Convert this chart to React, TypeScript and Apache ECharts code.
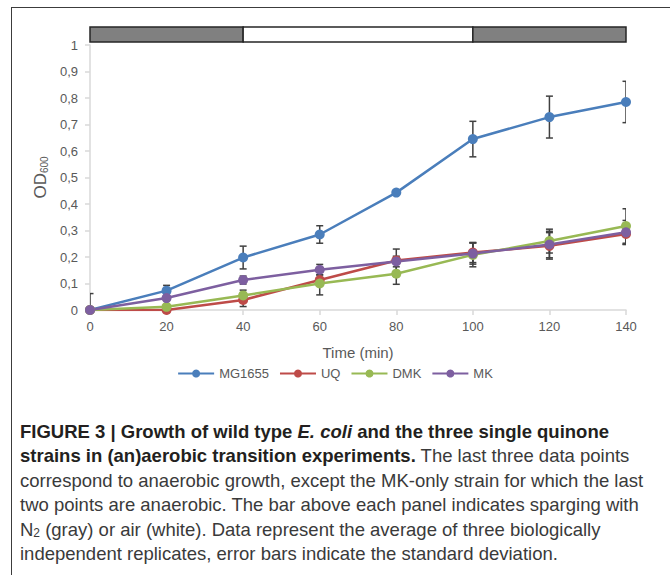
import React, { useEffect, useRef } from "react";
import * as echarts from "echarts";

const timePoints = [0, 20, 40, 60, 80, 100, 120, 140];
const seriesNames = ["MG1655", "UQ", "DMK", "MK"];
const mg1655 = [0, 0.073, 0.198, 0.285, 0.443, 0.645, 0.728, 0.785];
const mg1655Sd = [0, 0.02, 0.043, 0.033, 0.005, 0.067, 0.079, 0.078];
const uq = [0, 0, 0.038, 0.113, 0.187, 0.217, 0.242, 0.287];
const uqSd = [0, 0.004, 0.025, 0.02, 0.043, 0.038, 0.05, 0.04];
const dmk = [0, 0.012, 0.055, 0.1, 0.137, 0.208, 0.26, 0.317];
const dmkSd = [0, 0.004, 0.02, 0.043, 0.04, 0.045, 0.045, 0.065];
const mk = [0, 0.045, 0.113, 0.152, 0.183, 0.213, 0.247, 0.293];
const mkSd = [0.062, 0.01, 0.015, 0.02, 0.02, 0.04, 0.05, 0.045];
const yTicks = [0, 0.1, 0.2, 0.3, 0.4, 0.5, 0.6, 0.7, 0.8, 0.9, 1];
const xTicks = [0, 20, 40, 60, 80, 100, 120, 140];
// sparging phases: gas "N2" gray, "air" white
const phaseStart = [0, 40, 100];
const phaseEnd = [40, 100, 140];
const phaseGas = ["N2", "air", "N2"];

const colors = ["#4a7ebb", "#be4b48", "#98b954", "#7d5fa0"];

const captionLines: string[] = [
  "{b|FIGURE 3 | Growth of wild type }{bi|E. coli}{b| and the three single quinone}",
  "{b|strains in (an)aerobic transition experiments.}{n| The last three data points}",
  "{n|correspond to anaerobic growth, except the MK-only strain for which the last}",
  "{n|two points are anaerobic. The bar above each panel indicates sparging with}",
  "{n|N}{s|2}{n| (gray) or air (white). Data represent the average of three biologically}",
  "{n|independent replicates, error bars indicate the standard deviation.}",
];

export default function App() {
  const ref = useRef<HTMLDivElement>(null);
  useEffect(() => {
    if (!ref.current) return;
    const chart = echarts.init(ref.current, null, { renderer: "svg" });
    const means = [mg1655, uq, dmk, mk];
    const sds = [mg1655Sd, uqSd, dmkSd, mkSd];
    const font = "'Liberation Sans', Arial, sans-serif";
    const capFont = "'Liberation Sans', Arial, Helvetica, sans-serif";
    const capSize = 18.5;

    const lineSeries = seriesNames.map((name, k) => ({
      name,
      type: "line",
      data: timePoints.map((t, i) => [t, means[k][i]]),
      symbol: "circle",
      symbolSize: 10,
      z: 3,
      lineStyle: { color: colors[k], width: 2.5 },
      itemStyle: { color: colors[k] },
    }));

    const errSeries = seriesNames.map((name, k) => ({
      name: name + "-err",
      type: "custom",
      clip: true,
      z: 2,
      data: timePoints.map((t, i) => [t, means[k][i] - sds[k][i], means[k][i] + sds[k][i], sds[k][i]]),
      encode: { x: 0, y: [1, 2] },
      renderItem: (params: any, api: any) => {
        const sd = api.value(3);
        if (!sd || sd < 0.008) return null;
        const x = api.value(0);
        const lo = api.coord([x, api.value(1)]);
        const hi = api.coord([x, api.value(2)]);
        const w = 3.5;
        const st = { stroke: "#404040", lineWidth: 1.5 };
        return {
          type: "group",
          children: [
            { type: "line", shape: { x1: lo[0], y1: lo[1], x2: hi[0], y2: hi[1] }, style: st },
            { type: "line", shape: { x1: hi[0] - w, y1: hi[1], x2: hi[0] + w, y2: hi[1] }, style: st },
            { type: "line", shape: { x1: lo[0] - w, y1: lo[1], x2: lo[0] + w, y2: lo[1] }, style: st },
          ],
        };
      },
    }));

    const phaseSeries = {
      name: "sparging",
      type: "custom",
      clip: false,
      z: 5,
      data: phaseStart.map((s, i) => [s, phaseEnd[i], 1, phaseGas[i] === "N2" ? 1 : 0]),
      encode: { x: [0, 1], y: 2 },
      renderItem: (params: any, api: any) => {
        const p0 = api.coord([api.value(0), api.value(2)]);
        const p1 = api.coord([api.value(1), api.value(2)]);
        const gray = api.value(3) === 1;
        return {
          type: "rect",
          shape: { x: p0[0], y: p0[1] - 18, width: p1[0] - p0[0], height: 15 },
          style: { fill: gray ? "#808080" : "#ffffff", stroke: "#262626", lineWidth: 1.5 },
        };
      },
    };

    chart.setOption({
      animation: false,
      textStyle: { fontFamily: font },
      grid: { left: 90, right: 44, top: 45, bottom: 265, containLabel: false },
      legend: {
        data: seriesNames,
        top: 362,
        left: "center",
        itemWidth: 36,
        itemHeight: 10,
        itemGap: 10,
        textStyle: { color: "#595959", fontSize: 13, fontFamily: font },
      },
      xAxis: {
        type: "value",
        min: xTicks[0],
        max: xTicks[xTicks.length - 1],
        interval: 20,
        name: "Time (min)",
        nameLocation: "middle",
        nameGap: 35,
        nameTextStyle: { color: "#595959", fontSize: 15, fontFamily: font },
        axisLine: { show: true, lineStyle: { color: "#d9d9d9", width: 1.5 } },
        axisTick: { show: true, length: 5, lineStyle: { color: "#d9d9d9", width: 1.5 } },
        axisLabel: { color: "#595959", fontSize: 13, margin: 10 },
        splitLine: { show: false },
      },
      yAxis: {
        type: "value",
        min: yTicks[0],
        max: yTicks[yTicks.length - 1],
        interval: 0.1,
        name: "{a|OD}{s|600}",
        nameLocation: "middle",
        nameGap: 36,
        nameRotate: 90,
        nameTextStyle: {
          color: "#595959",
          rich: {
            a: { fontSize: 17, color: "#595959", fontFamily: font },
            s: { fontSize: 10, color: "#595959", fontFamily: font, padding: [8, 0, 0, 0] },
          },
        },
        axisLine: { show: true, lineStyle: { color: "#d9d9d9", width: 1.5 } },
        axisTick: { show: true, length: 5, lineStyle: { color: "#d9d9d9", width: 1.5 } },
        axisLabel: {
          color: "#595959",
          fontSize: 13,
          margin: 12,
          formatter: (v: number) => String(Math.round(v * 10) / 10).replace(".", ","),
        },
        splitLine: { show: false },
      },
      graphic: captionLines.map((txt, i) => ({
        type: "text",
        left: 20,
        top: 422 + i * 24.4,
        style: {
          text: txt,
          fill: "#231f20",
          rich: {
            b: { fontSize: capSize, fontWeight: "bold", fontFamily: capFont, fill: "#231f20" },
            bi: { fontSize: capSize, fontWeight: "bold", fontStyle: "italic", fontFamily: capFont, fill: "#231f20" },
            n: { fontSize: capSize, fontFamily: capFont, fill: "#3a3a3a" },
            s: { fontSize: 12, fontFamily: capFont, fill: "#3a3a3a", padding: [8, 0, 0, 0] },
          },
        },
      })),
      series: [...errSeries, ...lineSeries, phaseSeries],
    });
    return () => chart.dispose();
  }, []);

  return (
    <div style={{ position: "absolute", left: 0, top: 0, width: 670, height: 575, background: "#fff", overflow: "hidden" }}>
      <div
        style={{
          position: "absolute",
          left: 11,
          top: 7,
          width: 670,
          height: 600,
          borderTop: "1.5px solid #3c3c3c",
          borderLeft: "1.5px solid #3c3c3c",
        }}
      />
      <div ref={ref} style={{ position: "absolute", left: 0, top: 0, width: 670, height: 575 }} />
    </div>
  );
}
